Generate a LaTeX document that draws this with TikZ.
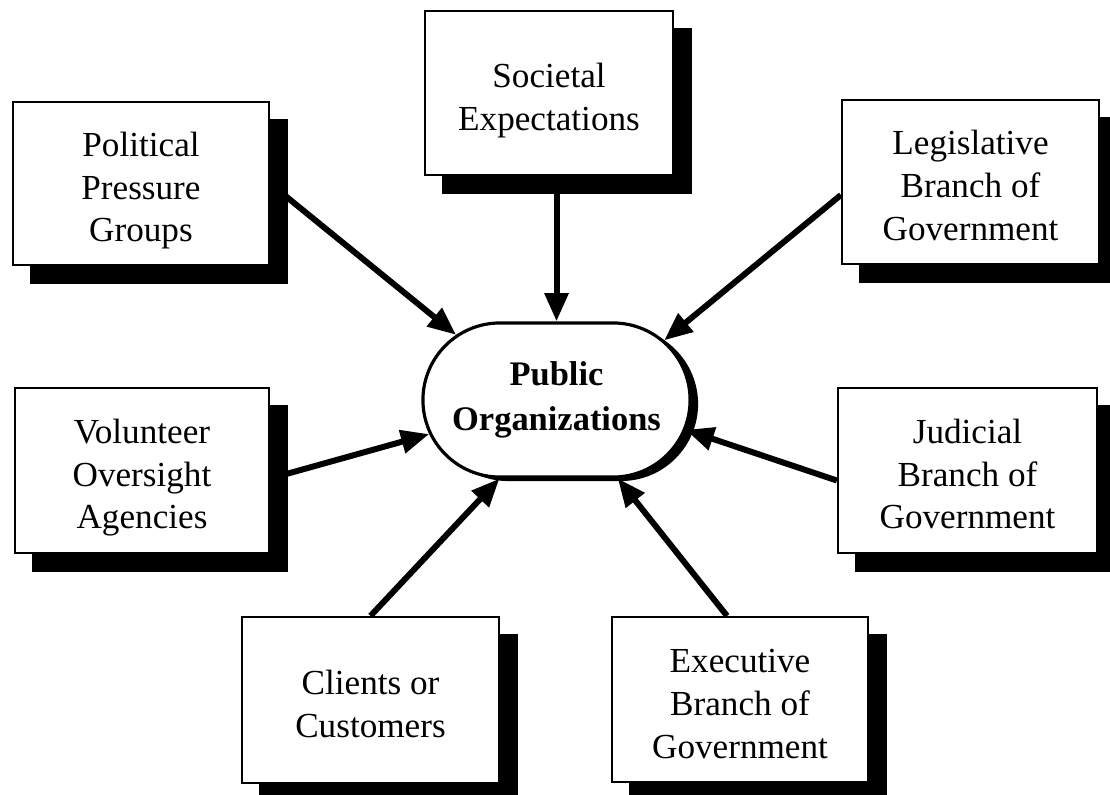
\documentclass[tikz,border=0pt]{standalone}
\usepackage{fontspec}
\setmainfont{Liberation Serif}
\usetikzlibrary{arrows.meta,shapes.misc}
\pgfdeclarelayer{hubshadow}
\pgfdeclarelayer{links}
\pgfdeclarelayer{boxshadow}
\pgfsetlayers{hubshadow,links,boxshadow,main}
% box label: stacked lines, set a little below the box centre
\newcommand\boxlines[1]{\raisebox{-0.07cm}[\height][\depth]{\begin{tabular}{@{}c@{}}#1\end{tabular}}}

\begin{document}
\begin{tikzpicture}[x=0.01cm,y=-0.01cm,
  factor/.style={draw, line width=0.6pt, fill=white, inner sep=0pt,
    font=\fontsize{10}{12.2}\selectfont},
  hub/.style={rounded rectangle, minimum width=2.67cm, minimum height=1.54cm,
    inner sep=0pt, align=center, font=\fontsize{9.8}{12.8}\selectfont\bfseries},
  link/.style={line width=1.7pt, -{Triangle[length=8pt,width=6.5pt]}},
  boxshade/.style={fill=black}
]
\useasboundingbox (0,0) rectangle (1110,794);
\clip (0,0) rectangle (1110,794);

% central organisation with its crescent shadow
\node[hub, draw, line width=0.9pt, fill=white] (org) at (556.5,400) {Public\\Organizations};
\begin{pgfonlayer}{hubshadow}
  \node[hub, fill=black] (orgshade) at (564.5,404) {};
\end{pgfonlayer}

% surrounding influences
\node[factor, minimum width=2.56cm, minimum height=1.63cm] (pol) at (141,183.5) {\boxlines{Political\\Pressure\\Groups}};
\node[factor, minimum width=2.48cm, minimum height=1.64cm] (soc) at (549,93) {\boxlines{Societal\\Expectations}};
\node[factor, minimum width=2.57cm, minimum height=1.64cm] (leg) at (970.5,182) {\boxlines{Legislative\\Branch of\\Government}};
\node[factor, minimum width=2.54cm, minimum height=1.65cm] (vol) at (142,470.5) {\boxlines{Volunteer\\Oversight\\Agencies}};
\node[factor, minimum width=2.59cm, minimum height=1.65cm] (jud) at (967.5,470.5) {\boxlines{Judicial\\Branch of\\Government}};
\node[factor, minimum width=2.57cm, minimum height=1.66cm] (cli) at (370.5,700) {\boxlines{Clients or\\Customers}};
\node[factor, minimum width=2.56cm, minimum height=1.65cm] (exe) at (740,699.5) {\boxlines{Executive\\Branch of\\Government}};

% drop shadows of the boxes
\begin{pgfonlayer}{boxshadow}
  \foreach \b in {pol,soc,leg,vol,jud,cli,exe}
    \fill[boxshade] ([shift={(18,18)}]\b.south west) rectangle ([shift={(18,18)}]\b.north east);
\end{pgfonlayer}

% arrows into the organisation
\begin{pgfonlayer}{links}
  \draw[link] (pol.east) -- (org.147);
  \draw[link] (soc.south -| org.north) -- (org.north);
  \draw[link] ([yshift=-0.13cm]leg.west) -- (org.29);
  \draw[link] ([yshift=-0.08cm]vol.east) -- (org.195);
  \draw[link] ([yshift=-0.1cm]jud.west) -- (org.347);
  \draw[link] (cli.north) -- (org.234);
  \draw[link] ([xshift=-0.13cm]exe.north) -- (org.308);
\end{pgfonlayer}
\end{tikzpicture}
\end{document}
